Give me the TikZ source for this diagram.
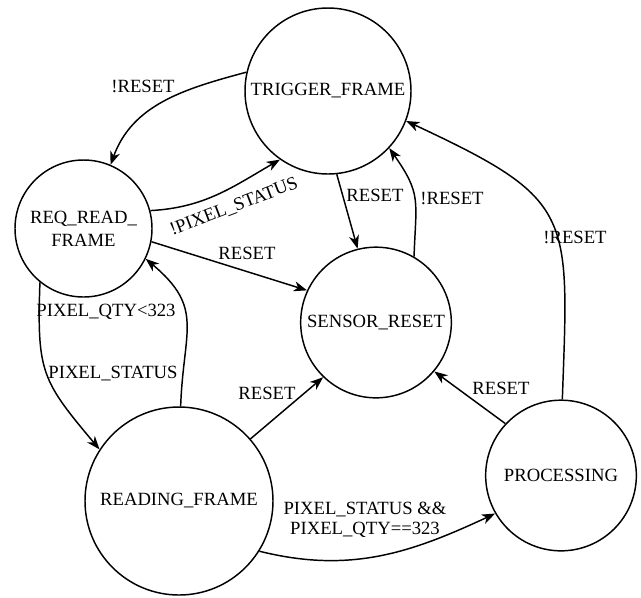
\documentclass[tikz,border=0pt]{standalone}
\usepackage{fontspec}
\setmainfont{Liberation Serif}
\usetikzlibrary{arrows.meta}
\begin{document}
\begin{tikzpicture}[x=0.75pt,y=0.75pt,
  state/.style={draw, circle, line width=1.1pt, inner sep=0pt, align=center,
    font=\fontsize{14}{17}\selectfont},
  lbl/.style={font=\fontsize{14}{15}\selectfont, inner sep=0pt, align=center},
  edge/.style={line width=1.1pt, -{Stealth[length=10pt,width=7.5pt,inset=3pt]}}
]
\useasboundingbox (0,0) rectangle (641,-597);
\node[state, minimum size=124.5pt] (T) at (328,-91) {TRIGGER\_FRAME};
\node[state, minimum size=102.75pt] (Q) at (83.5,-228.5) {REQ\_READ\_\\FRAME};
\node[state, minimum size=113pt] (S) at (376,-322.5) {SENSOR\_RESET};
\node[state, minimum size=141pt] (R) at (179,-501) {READING\_FRAME};
\node[state, minimum size=113pt] (P) at (561,-475.5) {PROCESSING};

\draw[edge] (T.167) to[out=195,in=70] (Q.67);
\draw[edge] (Q.15) to[out=3,in=210] (T.235);
\draw[edge] (Q.-11) -- (S.155);
\draw[edge] (T.-84) -- (S.104);
\draw[edge] (S.60) to[out=88,in=-55,looseness=1.3] (T.-43);
\draw[edge] (P.89) to[out=88,in=-25,looseness=1.5] (T.-21);
\draw[edge] (P.137) -- (S.-40);
\draw[edge] (R.41) -- (S.226);
\draw[edge] (R.-32) to[out=-14,in=205] (P.210);
\draw[edge] (Q.231) to[out=-92,in=130,looseness=1.3] (R.147);
\draw[edge] (R.89) to[out=88,in=-40,looseness=1.3] (Q.-26);

\node[lbl] (l1) at (143,-86) {!RESET};
\node[lbl, rotate=21] (l2) at (234,-207) {!PIXEL\_STATUS};
\node[lbl] (l3) at (247,-253) {RESET};
\node[lbl] (l4) at (375,-195) {RESET};
\node[lbl] (l5) at (452,-198) {!RESET};
\node[lbl] (l6) at (575,-237) {!RESET};
\node[lbl] (l7) at (501,-388) {RESET};
\node[lbl] (l8) at (267,-393) {RESET};
\node[lbl] (l9) at (365,-520) {PIXEL\_STATUS \&\&\\PIXEL\_QTY==323};
\node[lbl] (l10) at (106,-312) {PIXEL\_QTY<323};
\node[lbl] (l11) at (113,-374) {PIXEL\_STATUS};
\end{tikzpicture}
\end{document}
